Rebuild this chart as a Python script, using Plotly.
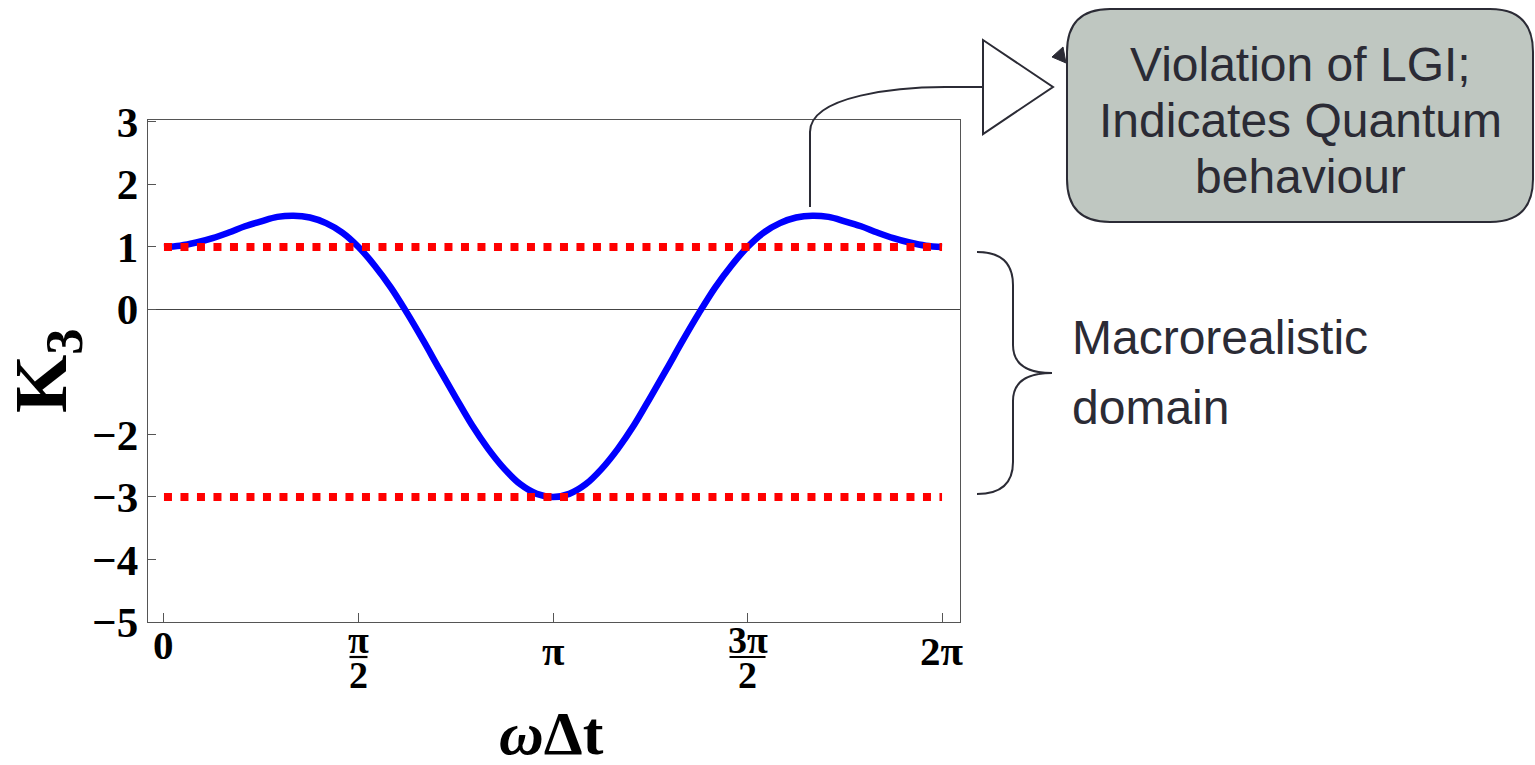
import plotly.graph_objects as go
import numpy as np

# ---------------- data ----------------
# sample positions in units of pi (0 .. 2pi, step pi/24)
x_over_pi = [i / 24 for i in range(49)]
k3_values = [1.00, 1.02, 1.07, 1.14, 1.23, 1.33, 1.41, 1.48, 1.50, 1.47, 1.38, 1.23,
             1.00, 0.70, 0.35, -0.06, -0.50, -0.96, -1.41, -1.85, -2.23, -2.55, -2.80, -2.95,
             -3.00,
             -2.95, -2.80, -2.55, -2.23, -1.85, -1.41, -0.96, -0.50, -0.06, 0.35, 0.70, 1.00,
             1.23, 1.38, 1.47, 1.50, 1.48, 1.41, 1.33, 1.23, 1.14, 1.07, 1.02, 1.00]
bound_levels = [1, -3]
bound_x_over_pi = [0, 2]

y_tick_vals = [3, 2, 1, 0, -2, -3, -4, -5]
y_tick_text = ["3", "2", "1", "0", "\u22122", "\u22123", "\u22124", "\u22125"]
x_tick_over_pi = [0, 0.5, 1, 1.5, 2]
x_tick_num = ["0", "\u03c0", "\u03c0", "3\u03c0", "2\u03c0"]   # numerator / single label
x_tick_den = [None, "2", None, "2", None]

# ---------------- geometry helpers (decorations only) ----------------
W, H = 1535, 765
L, R, T, B = 148, 575, 120, 143
PW, PH = W - L - R, H - T - B


def px(xp):
    return (xp - L) / PW


def py(yp):
    return (H - B - yp) / PH


def path(cmds):
    out = []
    for c in cmds:
        if isinstance(c, str):
            out.append(c)
        else:
            out.append(f"{px(c[0]):.5f},{py(c[1]):.5f}")
    return " ".join(out)


DARK = "#2b2b35"
SERIF = "Liberation Serif"
SANS = "Liberation Sans"

fig = go.Figure()

xs = [v * np.pi for v in x_over_pi]
fig.add_trace(go.Scatter(x=xs, y=k3_values, mode="lines",
                         line=dict(color="#0000ff", width=6.5, shape="spline"),
                         hoverinfo="skip"))
for lvl in bound_levels:
    fig.add_trace(go.Scatter(x=[v * np.pi for v in bound_x_over_pi], y=[lvl, lvl], mode="lines",
                             line=dict(color="#ff0000", width=8, dash="8px,8.5px"),
                             hoverinfo="skip"))

fig.update_layout(
    width=W, height=H,
    margin=dict(l=L, r=R, t=T, b=B, pad=0),
    paper_bgcolor="white", plot_bgcolor="white",
    showlegend=False,
    xaxis=dict(range=[-0.129, 2 * np.pi + 0.145], tickvals=[v * np.pi for v in x_tick_over_pi],
               showticklabels=False, ticks="inside", ticklen=9, tickcolor="#555",
               showline=True, mirror=True, linecolor="#555", linewidth=1.3,
               showgrid=False, zeroline=False),
    yaxis=dict(range=[-5, 3.03], tickvals=y_tick_vals,
               ticktext=[f"<b>{t}</b>" for t in y_tick_text],
               tickfont=dict(family=SERIF, size=43, color="black"),
               ticks="inside", ticklen=8, tickcolor="#555",
               showline=True, mirror=True, linecolor="#555", linewidth=1.3,
               showgrid=False, zeroline=True, zerolinecolor="#444", zerolinewidth=1),
)

annotations = []
shapes = []

# x tick labels (incl. stacked fractions)
for v, num, den in zip(x_tick_over_pi, x_tick_num, x_tick_den):
    xv = v * np.pi
    if den is None:
        yc = 645 if num == "0" else 651
        annotations.append(dict(x=xv, y=py(yc), xref="x", yref="paper", text=f"<b>{num}</b>",
                                showarrow=False, xanchor="center", yanchor="middle",
                                font=dict(family=SERIF, size=41, color="black")))
    else:
        annotations.append(dict(x=xv, y=py(640), xref="x", yref="paper", text=f"<b>{num}</b>",
                                showarrow=False, xanchor="center", yanchor="middle",
                                font=dict(family=SERIF, size=38, color="black")))
        annotations.append(dict(x=xv, y=py(675), xref="x", yref="paper", text=f"<b>{den}</b>",
                                showarrow=False, xanchor="center", yanchor="middle",
                                font=dict(family=SERIF, size=38, color="black")))
        half = 9 if num == "\u03c0" else 18
        shapes.append(dict(type="line", xref="x", yref="paper", xsizemode="pixel", xanchor=xv,
                           x0=-half, x1=half, y0=py(657), y1=py(657),
                           line=dict(color="black", width=2.2)))

# axis titles
annotations.append(dict(x=px(46), y=py(370), xref="paper", yref="paper",
                        text="<b>K<sub>3</sub></b>", textangle=-90, showarrow=False,
                        xanchor="center", yanchor="middle",
                        font=dict(family=SERIF, size=75, color="black")))
annotations.append(dict(x=px(551), y=py(733), xref="paper", yref="paper",
                        text="<b><i>\u03c9</i>\u0394t</b>", showarrow=False,
                        xanchor="center", yanchor="middle",
                        font=dict(family=SERIF, size=62, color="black")))

# callout box
shapes.append(dict(type="path", xref="paper", yref="paper",
                   path=path(["M", (1110, 9), "L", (1490, 9), "Q", (1533, 9), (1533, 52),
                              "L", (1533, 179), "Q", (1533, 222), (1490, 222),
                              "L", (1110, 222), "Q", (1067, 222), (1067, 179),
                              "L", (1067, 52), "Q", (1067, 9), (1110, 9), "Z"]),
                   fillcolor="#bfc7c1", line=dict(color=DARK, width=2)))
for txt, yc in [("Violation of LGI;", 64), ("Indicates Quantum", 120), ("behaviour", 176)]:
    annotations.append(dict(x=px(1300), y=py(yc), xref="paper", yref="paper", text=txt,
                            showarrow=False, xanchor="center", yanchor="middle",
                            font=dict(family=SANS, size=48, color=DARK)))

# connector from the curve peak to the triangle
shapes.append(dict(type="path", xref="paper", yref="paper",
                   path=path(["M", (810, 207), "L", (810, 132), "C", (810, 95), (900, 87), (945, 87),
                              "L", (983, 87)]),
                   line=dict(color=DARK, width=2)))
shapes.append(dict(type="path", xref="paper", yref="paper",
                   path=path(["M", (983, 40), "L", (983, 134), "L", (1053, 87), "Z"]),
                   fillcolor="white", line=dict(color=DARK, width=2)))
shapes.append(dict(type="path", xref="paper", yref="paper",
                   path=path(["M", (1052, 57), "L", (1063, 47), "L", (1066, 63), "Z"]),
                   fillcolor=DARK, line=dict(color=DARK, width=1)))

# brace
shapes.append(dict(type="path", xref="paper", yref="paper",
                   path=path(["M", (977, 252), "Q", (1013, 252), (1013, 285),
                              "L", (1013, 345), "Q", (1013, 373), (1052, 373),
                              "Q", (1013, 373), (1013, 401),
                              "L", (1013, 462), "Q", (1013, 494), (977, 494)]),
                   line=dict(color=DARK, width=2)))
annotations.append(dict(x=px(1070), y=py(337), xref="paper", yref="paper", text="Macrorealistic",
                        showarrow=False, xanchor="left", yanchor="middle",
                        font=dict(family=SANS, size=48, color=DARK)))
annotations.append(dict(x=px(1070), y=py(408), xref="paper", yref="paper", text="domain",
                        showarrow=False, xanchor="left", yanchor="middle",
                        font=dict(family=SANS, size=48, color=DARK)))

fig.update_layout(annotations=annotations, shapes=shapes)
fig.write_html("out.html")
